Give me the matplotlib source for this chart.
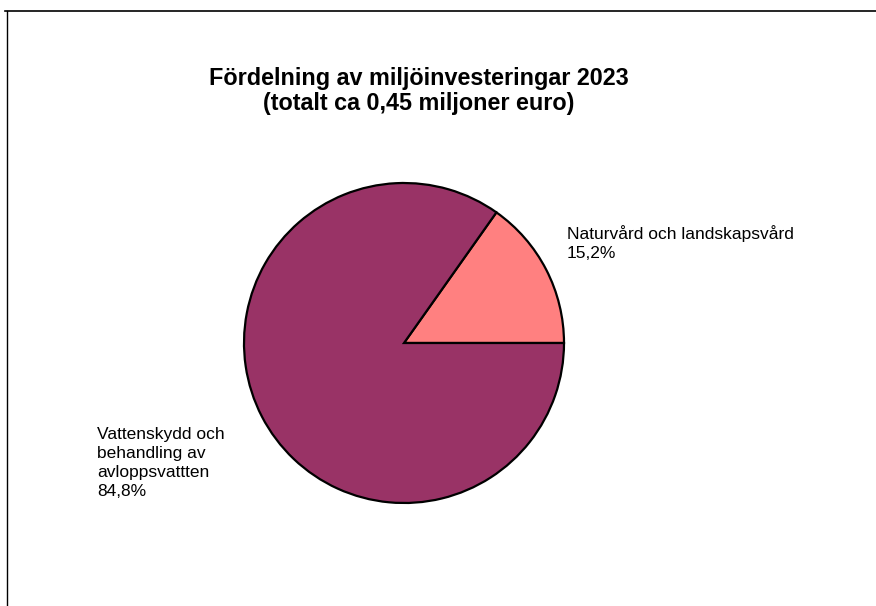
import matplotlib
matplotlib.use("Agg")
import matplotlib.pyplot as plt
from matplotlib.lines import Line2D

categories = ["Naturvård och landskapsvård", "Vattenskydd och\nbehandling av\navloppsvattten"]
values = [15.2, 84.8]
pct_labels = ["15,2%", "84,8%"]
colors = ["#FF8080", "#993366"]

plt.rcParams['font.family'] = ['Liberation Sans', 'DejaVu Sans']

W, H = 876, 606
fig = plt.figure(figsize=(W / 100, H / 100), dpi=100)
fig.patch.set_facecolor("white")

# frame lines (top and left)
fig.add_artist(Line2D([5 / W, 1.0], [1 - 11 / H, 1 - 11 / H], color="black", lw=1.2, transform=fig.transFigure))
fig.add_artist(Line2D([7 / W, 7 / W], [0, 1 - 11 / H], color="black", lw=1.0, transform=fig.transFigure))

cx, cy, r = 404, 343, 160
ax = fig.add_axes([(cx - r) / W, 1 - (cy + r) / H, 2 * r / W, 2 * r / H])
ax.pie(values, colors=colors, startangle=0, counterclock=True,
       wedgeprops=dict(edgecolor="black", linewidth=1.6), radius=1.0)
ax.set_xlim(-1.0, 1.0)
ax.set_ylim(-1.0, 1.0)
ax.set_aspect("auto")
ax.axis("off")

fig.text(419 / W, 1 - 91 / H, "Fördelning av miljöinvesteringar 2023\n(totalt ca 0,45 miljoner euro)",
         ha="center", va="center", fontsize=16.8, fontweight="bold", linespacing=1.12)

fig.text(567 / W, 1 - 243 / H, categories[0] + "\n" + pct_labels[0], ha="left", va="center",
         fontsize=12.5, linespacing=1.34)
fig.text(97 / W, 1 - 463 / H, categories[1] + "\n" + pct_labels[1], ha="left", va="center",
         fontsize=12.5, linespacing=1.34)

fig.savefig("out.png", dpi=100, facecolor="white")
